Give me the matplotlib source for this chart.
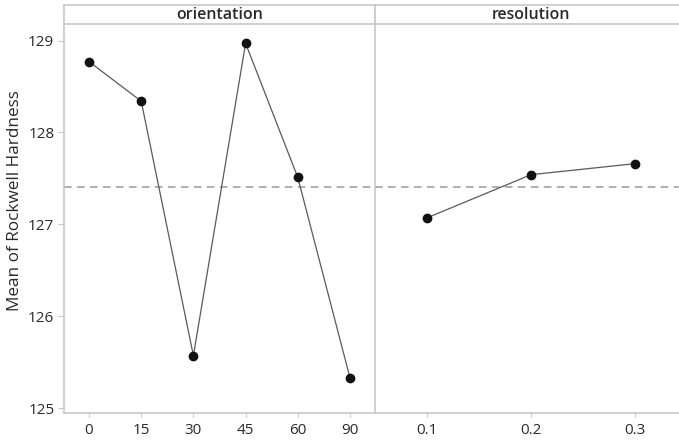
import matplotlib.pyplot as plt

plt.rcParams['font.family'] = ['Open Sans', 'DejaVu Sans']

orient_labels = ["0", "15", "30", "45", "60", "90"]
orient_means = [128.77, 128.34, 125.57, 128.97, 127.51, 125.33]
res_labels = ["0.1", "0.2", "0.3"]
res_means = [127.07, 127.54, 127.66]
grand_mean = 127.41
y_ticks = [125, 126, 127, 128, 129]

spine_col = "#c8c8c8"
text_col = "#2a2a2a"
line_col = "#5a5a5a"

fig = plt.figure(figsize=(6.79, 4.41), dpi=100)

bottom, top = 0.0635, 0.9456
strip_top = 0.9887
x0, xmid, x1 = 0.0943, 0.5523, 1.012

ax1 = fig.add_axes([x0, bottom, xmid - x0, top - bottom])
ax2 = fig.add_axes([xmid, bottom, x1 - xmid, top - bottom], sharey=ax1)

panels = [
    (ax1, orient_labels, orient_means, "orientation", (-0.479, 5.48)),
    (ax2, res_labels, res_means, "resolution", (-0.5, 2.5)),
]

for ax, labels, means, title, xlim in panels:
    xs = range(len(labels))
    ax.plot(xs, means, color=line_col, lw=0.9, zorder=3)
    ax.plot(xs, means, "o", color="#111111", ms=6, zorder=4)
    ax.axhline(grand_mean, color="#9a9a9a", lw=1.1, ls=(0, (5, 3.5)), zorder=2)
    ax.set_xlim(*xlim)
    ax.set_xticks(list(xs))
    ax.set_xticklabels(labels)
    for s in ["top", "right"]:
        ax.spines[s].set_visible(False)
    for s in ["left", "bottom"]:
        ax.spines[s].set_color(spine_col)
        ax.spines[s].set_linewidth(1.2)
    ax.tick_params(axis="x", colors=spine_col, labelcolor=text_col,
                   labelsize=11, length=3, pad=4)

    # header strip
    sx = ax.get_position()
    strip = fig.add_axes([sx.x0, top, sx.width, strip_top - top])
    strip.set_xticks([])
    strip.set_yticks([])
    for s in strip.spines.values():
        s.set_color(spine_col)
        s.set_linewidth(1.2)
    strip.text(0.5, 0.45, title, ha="center", va="center",
               fontsize=11.5, fontweight="semibold", color=text_col)

ax1.set_ylim(124.946, 129.18)
ax1.set_yticks(y_ticks)
ax1.tick_params(axis="y", colors=spine_col, labelcolor=text_col,
                labelsize=11, length=4, pad=3)
ax2.tick_params(axis="y", left=False, labelleft=False)

# y label sits a little above the axes centre in the original
fig.text(15 / 679, 1 - 201 / 441, "Mean of Rockwell Hardness", rotation=90,
         ha="center", va="center", fontsize=12.3, color=text_col)

fig.savefig("out.png", dpi=100)
